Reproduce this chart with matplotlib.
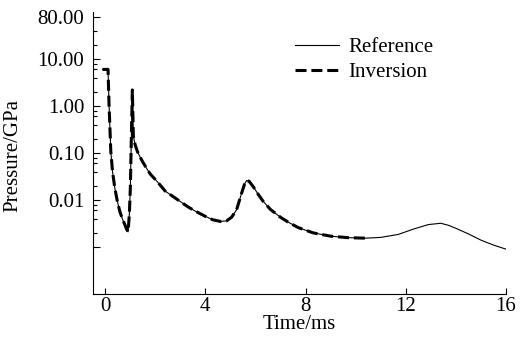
import matplotlib
matplotlib.use('Agg')
from matplotlib import pyplot as plt
from matplotlib.ticker import FixedLocator, FixedFormatter

# reference pressure curve
ref_time = [-0.1, 0.12, 0.16, 0.23, 0.3, 0.39, 0.49, 0.59, 0.69, 0.79, 0.86, 0.92, 0.97, 1.01,
            1.05, 1.09, 1.13, 1.2, 1.3, 1.4, 1.5, 1.65, 1.8, 2.1, 2.4, 2.7, 3.0, 3.3, 3.6,
            4.0, 4.3, 4.6, 4.85, 5.05, 5.25, 5.45, 5.57, 5.65, 5.75, 5.92, 6.1, 6.3, 6.6,
            7.0, 7.3, 7.7, 8.3, 9.0, 9.7, 10.4, 11.0, 11.7, 12.3, 12.9, 13.4, 13.7, 14.0,
            14.5, 15.0, 15.5, 16.0]
ref_pressure = [6.0, 6.0, 1.07, 0.108, 0.04, 0.018, 0.0095, 0.0057, 0.004, 0.003, 0.0024,
                0.0021, 0.005, 0.018, 0.21, 2.2, 0.23, 0.15, 0.105, 0.082, 0.065, 0.048,
                0.036, 0.024, 0.0155, 0.012, 0.0093, 0.0072, 0.0058, 0.0045, 0.0038, 0.0035,
                0.0036, 0.0043, 0.0062, 0.014, 0.022, 0.026, 0.025, 0.019, 0.0135, 0.0095,
                0.0063, 0.0043, 0.0034, 0.0026, 0.002, 0.0017, 0.00158, 0.00154, 0.0016,
                0.00185, 0.0024, 0.003, 0.0032, 0.0029, 0.0025, 0.0019, 0.0014, 0.0011,
                0.0009]

# inversion result, stops around 10.4 ms
inv_time = [-0.1, 0.12, 0.16, 0.23, 0.3, 0.39, 0.49, 0.59, 0.69, 0.79, 0.86, 0.92, 0.97, 1.01,
            1.05, 1.09, 1.13, 1.2, 1.3, 1.4, 1.5, 1.65, 1.8, 2.1, 2.4, 2.7, 3.0, 3.3, 3.6,
            4.0, 4.3, 4.6, 4.85, 5.05, 5.25, 5.45, 5.57, 5.65, 5.75, 5.92, 6.1, 6.3, 6.6,
            7.0, 7.3, 7.7, 8.3, 9.0, 9.7, 10.4]
inv_pressure = [6.0, 6.0, 1.07, 0.108, 0.04, 0.018, 0.0095, 0.0057, 0.004, 0.003, 0.0024,
                0.0021, 0.005, 0.018, 0.21, 2.2, 0.23, 0.15, 0.105, 0.082, 0.065, 0.048,
                0.036, 0.024, 0.0155, 0.012, 0.0093, 0.0072, 0.0058, 0.0045, 0.0038, 0.0035,
                0.0036, 0.0043, 0.0062, 0.014, 0.022, 0.026, 0.025, 0.019, 0.0135, 0.0095,
                0.0063, 0.0043, 0.0034, 0.0026, 0.002, 0.0017, 0.00158, 0.00154]

x_ticks = [0, 4, 8, 12, 16]
y_ticks = [0.001, 0.01, 0.1, 1, 10, 80]
y_labels = ['', '0.01', '0.10', '1.00', '10.00', '80.00']
y_minor = [0.002, 0.004, 0.006, 0.008, 0.02, 0.04, 0.06, 0.08, 0.2, 0.4, 0.6, 0.8,
           2, 4, 6, 8, 20, 40]

plt.rcParams['font.family'] = ['Liberation Serif', 'DejaVu Serif']
plt.rcParams['font.size'] = 15

fig = plt.figure(figsize=(5.22, 3.43), dpi=100)
ax = fig.add_axes([92.5/522, 49/343, (506-92.5)/522, (294-12)/343])

ax.plot(ref_time, ref_pressure, color='black', lw=0.8, label='Reference')
ax.plot(inv_time, inv_pressure, color='black', lw=2.2, linestyle=(0, (3.6, 1.6)), label='Inversion')

ax.set_yscale('log')
ax.set_xlim(-0.5, 16)
ax.set_ylim(1e-4, 100)

ax.xaxis.set_major_locator(FixedLocator(x_ticks))
ax.yaxis.set_major_locator(FixedLocator(y_ticks))
ax.yaxis.set_major_formatter(FixedFormatter(y_labels))
ax.yaxis.set_minor_locator(FixedLocator(y_minor))
ax.yaxis.set_minor_formatter(FixedFormatter([]))
ax.xaxis.set_minor_locator(FixedLocator([]))

ax.spines['top'].set_visible(False)
ax.spines['right'].set_visible(False)
ax.tick_params(axis='x', which='major', direction='in', length=4, width=0.8, pad=2)
ax.tick_params(axis='y', which='major', direction='in', length=5, width=0.8, pad=6)
ax.tick_params(axis='y', which='minor', direction='in', length=3, width=0.8)

ax.set_xlabel('Time/ms')
ax.set_ylabel('Pressure/GPa')
ax.xaxis.set_label_coords(0.5, -0.075)
ax.yaxis.set_label_coords(-0.17, 0.49)

ax.legend(loc='upper left', bbox_to_anchor=(285/522, 1 - 27/343), bbox_transform=fig.transFigure,
          frameon=False, borderpad=0, handlelength=2.1, handletextpad=0.45, labelspacing=0.25)

fig.savefig('out.png', dpi=100)
